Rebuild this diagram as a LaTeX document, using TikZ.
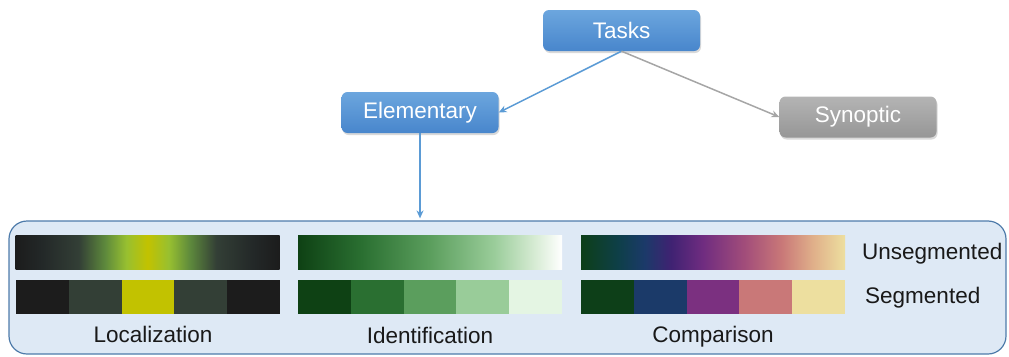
\documentclass[tikz,border=0pt]{standalone}
\usepackage{fontspec}
\setmainfont{Liberation Sans}
\usetikzlibrary{positioning, shapes, arrows.meta, shadows}
\definecolor{nodetop}{HTML}{6CA6DE}
\definecolor{nodebot}{HTML}{4886CC}
\definecolor{greytop}{HTML}{B4B4B4}
\definecolor{greybot}{HTML}{969696}
\definecolor{linkblue}{HTML}{5B9BD5}
\definecolor{linkgrey}{HTML}{A6A6A6}
\definecolor{panelfill}{HTML}{DEE9F5}
\definecolor{paneldraw}{HTML}{4E7BAA}
% segment colours
\definecolor{la}{HTML}{1C1C1C}
\definecolor{lb}{HTML}{333F36}
\definecolor{lc}{HTML}{C2C200}
\definecolor{ia}{HTML}{0E4114}
\definecolor{ib}{HTML}{2A6F31}
\definecolor{ic}{HTML}{5B9E5D}
\definecolor{id}{HTML}{99CC99}
\definecolor{ie}{HTML}{E4F5E3}
\definecolor{ca}{HTML}{0D3F18}
\definecolor{cb}{HTML}{1B3A69}
\definecolor{cc}{HTML}{7B3080}
\definecolor{cd}{HTML}{C97878}
\definecolor{ce}{HTML}{EDDF9F}
% continuous bars, the path maps to 25bp..75bp
\pgfdeclarehorizontalshading{locshade}{100bp}{
  color(0bp)=(la); color(25bp)=(la); color(30bp)=({rgb,255:red,35;green,40;blue,40});
  color(37bp)=(lb); color(42bp)=({rgb,255:red,94;green,138;blue,60});
  color(46bp)=({rgb,255:red,152;green,192;blue,48}); color(50bp)=(lc);
  color(54bp)=({rgb,255:red,152;green,192;blue,48}); color(58bp)=({rgb,255:red,94;green,138;blue,60});
  color(63bp)=(lb); color(70bp)=({rgb,255:red,35;green,40;blue,40}); color(75bp)=(la); color(100bp)=(la)}
\pgfdeclarehorizontalshading{idshade}{100bp}{
  color(0bp)=(ia); color(25bp)=(ia); color(37bp)=(ib); color(50bp)=(ic);
  color(62bp)=(id); color(70bp)=({rgb,255:red,216;green,236;blue,213});
  color(75bp)=(white); color(100bp)=(white)}
\pgfdeclarehorizontalshading{cmpshade}{100bp}{
  color(0bp)=(ca); color(25bp)=(ca); color(32bp)=({rgb,255:red,14;green,63;blue,72});
  color(37bp)=(cb); color(42bp)=({rgb,255:red,63;green,34;blue,114});
  color(48bp)=({rgb,255:red,111;green,44;blue,128}); color(56bp)=({rgb,255:red,162;green,77;blue,122});
  color(63bp)=(cd); color(69bp)=({rgb,255:red,224;green,176;blue,138});
  color(75bp)=(ce); color(100bp)=(ce)}
\tikzset{
  task/.style={rectangle, rounded corners=6pt, minimum width=157pt, minimum height=41pt,
    top color=nodetop, bottom color=nodebot, text=white,
    drop shadow={shadow xshift=1pt, shadow yshift=-2pt, opacity=0.3},
    font=\fontsize{22.5}{27}\selectfont},
  greytask/.style={task, top color=greytop, bottom color=greybot},
  bar/.style={rectangle, inner sep=0pt, minimum width=264pt, minimum height=34pt},
  seg/.style={rectangle, inner sep=0pt, minimum width=52.8pt, minimum height=34pt},
  lbl/.style={font=\fontsize{22.5}{27}\selectfont, text=black!90, inner sep=0pt},
  link/.style={line width=1.5pt, -{Stealth[length=8pt,width=7pt]}}}

\begin{document}
\begin{tikzpicture}[x=1pt, y=-1pt]
  \useasboundingbox (0,0) rectangle (1009,356);
  \node[rectangle, rounded corners=18pt, fill=panelfill, draw=paneldraw, line width=1.2pt,
    minimum width=997pt, minimum height=133pt] (p) at (507.5,287.5) {};
  \node[task] (t) at (621.5,30.5) {Tasks};
  \node[task] (e) at (420,112.5) {Elementary};
  \node[greytask] (s) at (858,117) {Synoptic};
  \draw[link, linkblue] (t.south) -- (e.east);
  \draw[link, linkgrey] (t.south) -- (s.west);
  \draw[link, linkblue, shorten >=2pt] (e.south) -- (e.south |- p.north);
  % unsegmented
  \node[bar, shade, shading=locshade] (lu) at (147.5,252) {};
  \node[bar, shade, shading=idshade] (iu) at (430,252) {};
  \node[bar, shade, shading=cmpshade] (cu) at (713,252) {};
  % segmented
  \foreach \c [count=\i] in {la,lb,lc,lb,la}
    \node[seg, fill=\c] (ls\i) at (16+52.8*\i-26.4,297) {};
  \foreach \c [count=\i] in {ia,ib,ic,id,ie}
    \node[seg, fill=\c] (is\i) at (298+52.8*\i-26.4,297) {};
  \foreach \c [count=\i] in {ca,cb,cc,cd,ce}
    \node[seg, fill=\c] (cs\i) at (581+52.8*\i-26.4,297) {};
  \node[lbl, anchor=base] (lc) at (153,342) {Localization};
  \node[lbl, anchor=base] (ic) at (430,343) {Identification};
  \node[lbl, anchor=base] (cc) at (713,342) {Comparison};
  \node[lbl, anchor=base west] (un) at (862,259) {Unsegmented};
  \node[lbl, anchor=base west] (sg) at (865,303) {Segmented};
\end{tikzpicture}
\end{document}
